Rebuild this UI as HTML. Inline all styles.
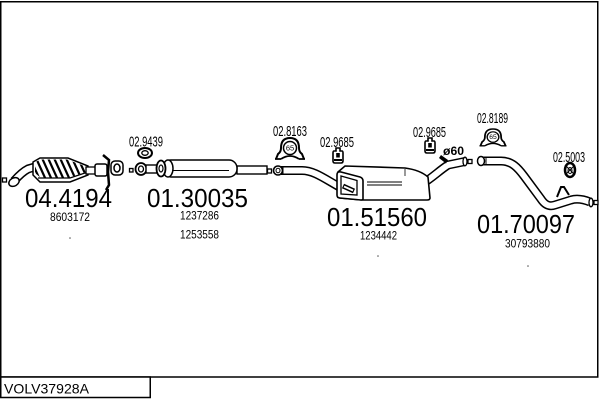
<!DOCTYPE html>
<html><head><meta charset="utf-8">
<style>html,body{margin:0;padding:0;background:#fff}svg{display:block}</style>
</head>
<body>
<svg width="600" height="400" viewBox="0 0 600 400" xmlns="http://www.w3.org/2000/svg" font-family="'Liberation Sans', Arial, sans-serif">
<defs>
  <clipPath id="catclip"><polygon points="35,162 41,159.5 67,159.5 86,166.5 86,172 68,178 41,178 35,173"/></clipPath>
  <g id="hanger">
    <path d="M-14,11 L-12,6 Q-9,4 -9,0 Q-9,-10 0,-10 Q9,-10 9,0 Q9,4 12,6 L14,11" fill="#fff" stroke="#000" stroke-width="2"/>
    <path d="M-15,11 L-9,11 M9,11 L15,11 M-9,11 Q0,5 9,11" fill="none" stroke="#000" stroke-width="1.8"/>
    <circle cx="0" cy="0" r="6.5" fill="#fff" stroke="#000" stroke-width="1.5"/>
    <text x="0" y="2.6" font-size="7.5" text-anchor="middle">65</text>
  </g>
  <g id="rubber">
    <path d="M3,0 H7 V3 H9 Q10,3 10,5 V13 Q10,15 8,15 H2 Q0,15 0,13 V5 Q0,3 1,3 H3 Z" fill="#fff" stroke="#000" stroke-width="1.6"/>
    <rect x="3.2" y="5" width="3.6" height="4.5" fill="#000"/>
    <path d="M1,12 H9" stroke="#000" stroke-width="2"/>
  </g>
</defs>

<!-- frame -->
<rect x="0.75" y="1.75" width="597" height="375.25" fill="none" stroke="#000" stroke-width="1.5"/>
<rect x="0.75" y="377" width="149.5" height="20.5" fill="#fff" stroke="#000" stroke-width="1.5"/>
<text x="4" y="393.5" font-size="14" textLength="85" lengthAdjust="spacingAndGlyphs">VOLV37928A</text>

<!-- ===== 04.4194 catalytic converter ===== -->
<rect x="2.5" y="178" width="4" height="4" fill="#fff" stroke="#000" stroke-width="1.3"/>
<path d="M14,181 Q22,172 28,169 L38,166" fill="none" stroke="#000" stroke-width="9"/>
<path d="M14,181 Q22,172 28,169 L38,166" fill="none" stroke="#fff" stroke-width="6"/>
<ellipse cx="14" cy="182" rx="5.5" ry="4" transform="rotate(-30 14 182)" fill="#fff" stroke="#000" stroke-width="1.5"/>
<polygon points="33,162 40,158 68,158 88,166 88,175 70,182 40,182 33,175" fill="#fff" stroke="#000" stroke-width="1.5"/>
<g clip-path="url(#catclip)" stroke="#000" stroke-width="2.2">
  <line x1="30" y1="158" x2="40" y2="180"/>
  <line x1="36" y1="158" x2="46" y2="180"/>
  <line x1="42" y1="158" x2="52" y2="180"/>
  <line x1="48" y1="158" x2="58" y2="180"/>
  <line x1="54" y1="158" x2="64" y2="180"/>
  <line x1="60" y1="158" x2="70" y2="180"/>
  <line x1="66" y1="158" x2="76" y2="180"/>
  <line x1="72" y1="158" x2="82" y2="180"/>
  <line x1="78" y1="158" x2="88" y2="180"/>
</g>
<path d="M38,178 L70,178 L88,172" fill="none" stroke="#000" stroke-width="1.2"/>
<rect x="86" y="167" width="10" height="7" fill="#fff" stroke="#000" stroke-width="1.3"/>
<rect x="95" y="164" width="12" height="12" rx="2" fill="#fff" stroke="#000" stroke-width="1.5"/>
<path d="M103,155 L109,160 L108,172 L109,185 L106,190" fill="none" stroke="#000" stroke-width="2.5"/>
<rect x="111" y="161" width="12" height="14" rx="4" fill="#fff" stroke="#000" stroke-width="1.5"/>
<ellipse cx="117" cy="168" rx="3" ry="4" fill="#fff" stroke="#000" stroke-width="1.5"/>

<!-- ===== 02.9439 ===== -->
<rect x="129.5" y="168.5" width="3.5" height="3.5" fill="#fff" stroke="#000" stroke-width="1.3"/>
<ellipse cx="145" cy="153" rx="7" ry="5" fill="#fff" stroke="#000" stroke-width="2"/>
<ellipse cx="145" cy="153" rx="3.2" ry="2.3" fill="#fff" stroke="#000" stroke-width="1.3"/>

<!-- ===== 01.30035 front silencer ===== -->
<ellipse cx="141" cy="169" rx="5.5" ry="6" fill="#fff" stroke="#000" stroke-width="1.8"/>
<ellipse cx="141" cy="169" rx="2.5" ry="3" fill="#fff" stroke="#000" stroke-width="1.3"/>
<rect x="146" y="165" width="12" height="8" fill="#fff" stroke="#000" stroke-width="1.4"/>
<rect x="237" y="166" width="30" height="8" fill="#fff" stroke="#000" stroke-width="1.4"/>
<rect x="163" y="160" width="74" height="17" rx="8" fill="#fff" stroke="#000" stroke-width="1.5"/>
<ellipse cx="168" cy="168.5" rx="5" ry="8.5" fill="#fff" stroke="#000" stroke-width="1.5"/>
<ellipse cx="161" cy="168.5" rx="4.5" ry="8" fill="#fff" stroke="#000" stroke-width="1.8"/>
<ellipse cx="161" cy="168.5" rx="2" ry="3.5" fill="#fff" stroke="#000" stroke-width="1.2"/>
<line x1="173" y1="170.5" x2="229" y2="170.5" stroke="#000" stroke-width="1"/>
<rect x="267.5" y="169" width="4" height="4" fill="#fff" stroke="#000" stroke-width="1.3"/>

<!-- ===== 01.51560 middle ===== -->
<path d="M281,170.5 L302,170.5 C315,170.5 326,180 345,190" fill="none" stroke="#000" stroke-width="9"/>
<path d="M281,170.5 L302,170.5 C315,170.5 326,180 345,190" fill="none" stroke="#fff" stroke-width="6"/>
<ellipse cx="278" cy="170.5" rx="4.5" ry="4.5" fill="#fff" stroke="#000" stroke-width="1.6"/>
<ellipse cx="278" cy="170.5" rx="2" ry="2.3" fill="#fff" stroke="#000" stroke-width="1"/>
<line x1="283" y1="166.5" x2="283" y2="174.5" stroke="#000" stroke-width="1"/>

<!-- outlet pipe -->
<path d="M422,184 C432,178 440,170 448,165 L465,161.5" fill="none" stroke="#000" stroke-width="9"/>
<path d="M422,184 C432,178 440,170 448,165 L465,161.5" fill="none" stroke="#fff" stroke-width="6"/>
<ellipse cx="465" cy="161.5" rx="2" ry="4.3" fill="#fff" stroke="#000" stroke-width="1.3"/>
<path d="M441,155 L448,160 L446,163.5 L439,158 Z" fill="#000"/>

<!-- muffler body -->
<path d="M338,172 L345,166 L405,168 Q420,170 428,177 L430,198 Q430,200 427,200 L362,200 L340,198 Z" fill="#fff" stroke="#000" stroke-width="1.6"/>
<path d="M337,175 Q337,171 341,172 L360,177 Q363,178 363,181 L363,199 Q363,200 361,200 L340,198 Q337,198 337,195 Z" fill="#fff" stroke="#000" stroke-width="1.6"/>
<path d="M341,176 L357,180.5 L357,195 L341,194 Z" fill="#fff" stroke="#000" stroke-width="1.3"/>
<path d="M343,186 L354,191" stroke="#000" stroke-width="5"/>
<path d="M344,186.5 L353,190.5" stroke="#fff" stroke-width="2"/>
<line x1="367" y1="182" x2="402" y2="182" stroke="#000" stroke-width="1"/>
<line x1="367" y1="185" x2="402" y2="185" stroke="#000" stroke-width="1"/>
<line x1="405" y1="169" x2="405" y2="176" stroke="#000" stroke-width="0.8"/>

<rect x="468" y="159.5" width="4" height="4" fill="#fff" stroke="#000" stroke-width="1.3"/>

<!-- ===== 01.70097 rear ===== -->
<path d="M482,161 L501,161 C512,161 518,168 524,176 L541,199 C545,205 549,207 555,205 L571,200 C578,198 585,200 590,202" fill="none" stroke="#000" stroke-width="9"/>
<path d="M482,161 L501,161 C512,161 518,168 524,176 L541,199 C545,205 549,207 555,205 L571,200 C578,198 585,200 590,202" fill="none" stroke="#fff" stroke-width="6"/>
<ellipse cx="481" cy="161" rx="3.5" ry="4.5" fill="#fff" stroke="#000" stroke-width="1.5"/>
<line x1="486" y1="157" x2="486" y2="165" stroke="#000" stroke-width="1"/>
<ellipse cx="591" cy="202.5" rx="2" ry="4.3" fill="#fff" stroke="#000" stroke-width="1.3"/>
<rect x="594" y="200.5" width="4" height="4" fill="#fff" stroke="#000" stroke-width="1.3"/>
<path d="M557,197 L561,187 L564,187 L569,195" fill="none" stroke="#000" stroke-width="2"/>

<!-- hangers -->
<use href="#hanger" transform="translate(290,148)"/>
<use href="#hanger" transform="translate(493,137) scale(0.9 0.8)"/>
<use href="#rubber" transform="translate(333,148)"/>
<use href="#rubber" transform="translate(425,138)"/>
<g transform="translate(570,170)">
  <ellipse cx="0" cy="0" rx="5" ry="7" fill="#fff" stroke="#000" stroke-width="2.5"/>
  <ellipse cx="0" cy="0.5" rx="2" ry="3" fill="#fff" stroke="#000" stroke-width="1"/>
  <path d="M-5,-5 L5,5 M5,-5 L-5,5" stroke="#000" stroke-width="1"/>
</g>

<!-- clamp labels -->
<text x="129" y="146.7" font-size="15" textLength="34" lengthAdjust="spacingAndGlyphs">02.9439</text>
<text x="273" y="136" font-size="15" textLength="34" lengthAdjust="spacingAndGlyphs">02.8163</text>
<text x="320" y="147" font-size="15" textLength="34" lengthAdjust="spacingAndGlyphs">02.9685</text>
<text x="413" y="137" font-size="15" textLength="33" lengthAdjust="spacingAndGlyphs">02.9685</text>
<text x="477" y="123" font-size="15" textLength="31" lengthAdjust="spacingAndGlyphs">02.8189</text>
<text x="553" y="162" font-size="15" textLength="32" lengthAdjust="spacingAndGlyphs">02.5003</text>
<text x="443" y="155" font-size="11.5" font-weight="bold" textLength="21" lengthAdjust="spacingAndGlyphs">ø60</text>

<!-- big part numbers -->
<text x="25" y="207" font-size="26" textLength="87" lengthAdjust="spacingAndGlyphs">04.4194</text>
<text x="147" y="207" font-size="26" textLength="101" lengthAdjust="spacingAndGlyphs">01.30035</text>
<text x="327" y="226" font-size="26" textLength="100" lengthAdjust="spacingAndGlyphs">01.51560</text>
<text x="477" y="233" font-size="26" textLength="98" lengthAdjust="spacingAndGlyphs">01.70097</text>

<!-- small reference numbers -->
<text x="50" y="221" font-size="12" textLength="40" lengthAdjust="spacingAndGlyphs">8603172</text>
<text x="180" y="219.5" font-size="12" textLength="39" lengthAdjust="spacingAndGlyphs">1237286</text>
<text x="180" y="238.5" font-size="12" textLength="39" lengthAdjust="spacingAndGlyphs">1253558</text>
<text x="360" y="239.3" font-size="12" textLength="37" lengthAdjust="spacingAndGlyphs">1234442</text>
<text x="505" y="247.3" font-size="12" textLength="45" lengthAdjust="spacingAndGlyphs">30793880</text>

<!-- dots -->
<circle cx="70" cy="238" r="0.8" fill="#555"/>
<circle cx="378" cy="256" r="0.8" fill="#555"/>
<circle cx="528" cy="266" r="0.8" fill="#555"/>
</svg>
</body></html>
